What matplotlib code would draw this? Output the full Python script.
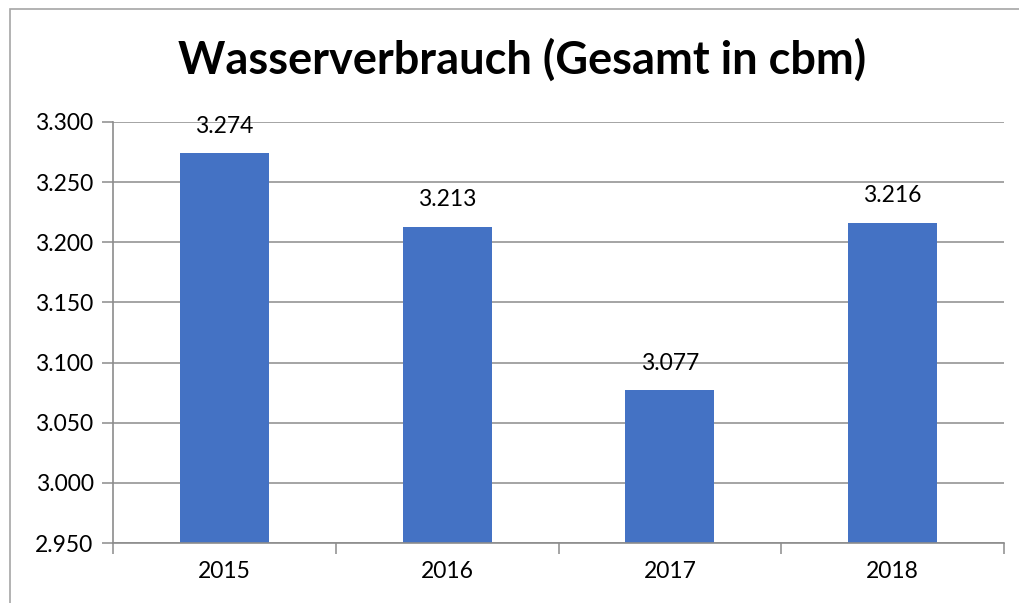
import matplotlib.pyplot as plt
from matplotlib.patches import Rectangle
from matplotlib.ticker import FuncFormatter

# Daten
jahre = ["2015", "2016", "2017", "2018"]
verbrauch = [3274, 3213, 3077, 3216]
y_ticks = [2950, 3000, 3050, 3100, 3150, 3200, 3250, 3300]

plt.rcParams['font.family'] = ['Lato', 'DejaVu Sans']

fig = plt.figure(figsize=(10.19, 6.03), dpi=100)
W, H = 1019, 603

# Rahmen des Diagramms (ragt rechts/unten aus dem Bild)
fig.patches.append(Rectangle((10 / W, -0.1), 1.2, 1 - 9 / H + 0.1, transform=fig.transFigure,
                             fill=False, edgecolor='#a6a6a6', lw=1.2))

ax = fig.add_axes([113 / W, 1 - 543 / H, (1004 - 113) / W, (543 - 122) / H])

x = range(len(jahre))
ax.bar(x, verbrauch, width=0.4, color='#4472C4', zorder=3)
ax.set_xlim(-0.5, len(jahre) - 0.5)
ax.set_ylim(2950, 3300)
ax.set_yticks(y_ticks)
ax.yaxis.set_major_formatter(FuncFormatter(lambda v, p: f"{int(v):,}".replace(",", ".")))
ax.grid(axis='y', color='#8c8c8c', lw=1.1, zorder=0)

# Tick-Striche zwischen den Kategorien
ax.set_xticks([i - 0.5 for i in range(len(jahre) + 1)], minor=False)
ax.set_xticklabels([])
ax.set_xticks(list(x), minor=True)
ax.set_xticklabels(jahre, minor=True)
ax.tick_params(axis='x', which='major', length=8, color='#8c8c8c', width=1.1)
ax.tick_params(axis='x', which='minor', length=0, labelsize=16.5, pad=13)
ax.tick_params(axis='y', length=8, color='#8c8c8c', width=1.1, labelsize=16.5, pad=6)

for s in ['top', 'right']:
    ax.spines[s].set_visible(False)
for s in ['left', 'bottom']:
    ax.spines[s].set_color('#8c8c8c')
    ax.spines[s].set_linewidth(1.2)
    ax.spines[s].set_zorder(4)

for i, v in enumerate(verbrauch):
    ax.annotate(f"{v:,}".replace(",", "."), (i, v), xytext=(0, 12), textcoords='offset points',
                ha='center', va='bottom', fontsize=16.5)

fig.text(522 / W, 1 - 60 / H, "Wasserverbrauch (Gesamt in cbm)", ha='center', va='center',
         fontsize=32.5, fontweight='bold')

fig.savefig("out.png", dpi=100)
